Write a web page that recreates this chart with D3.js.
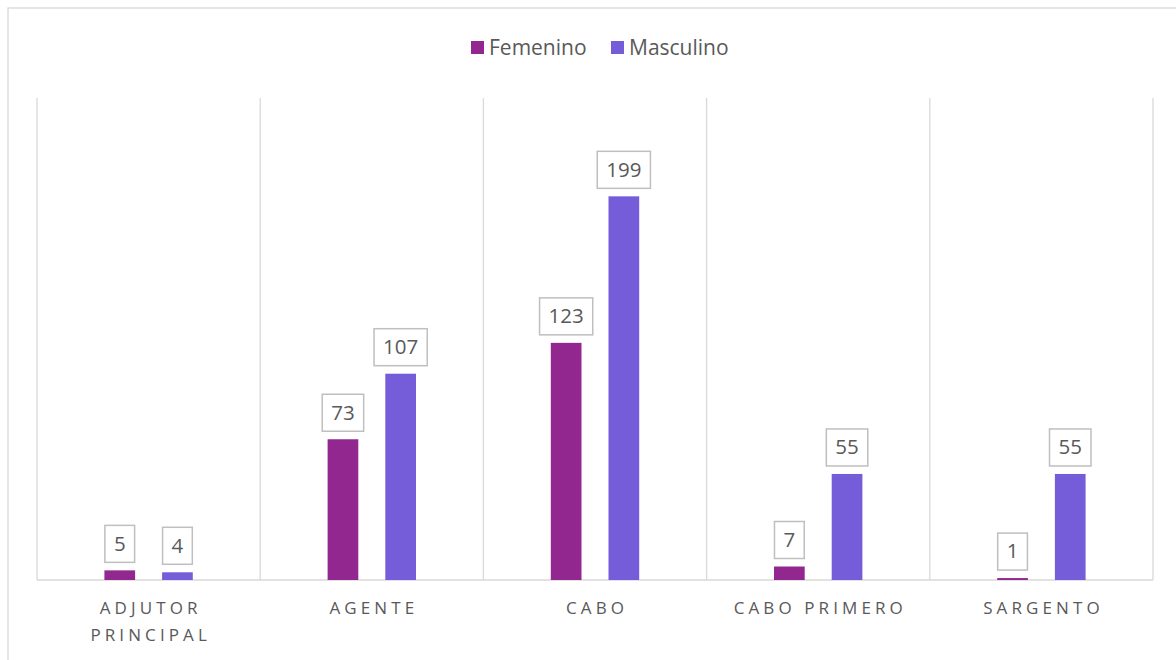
<!DOCTYPE html>
<html>
<head>
<meta charset="utf-8">
<script src="https://cdn.jsdelivr.net/npm/d3@7"></script>
<style>
  html, body { margin: 0; padding: 0; background: #ffffff; }
  svg { display: block; font-family: "Open Sans", "DejaVu Sans", sans-serif; }
</style>
</head>
<body>
<svg id="chart" width="1176" height="660"></svg>
<script>
// ---- data ----
const categories = ["ADJUTOR PRINCIPAL", "AGENTE", "CABO", "CABO PRIMERO", "SARGENTO"];
const categoryLines = [["ADJUTOR", "PRINCIPAL"], ["AGENTE"], ["CABO"], ["CABO PRIMERO"], ["SARGENTO"]];
const seriesNames = ["Femenino", "Masculino"];
const femenino = [5, 73, 123, 7, 1];
const masculino = [4, 107, 199, 55, 55];
const seriesColors = ["#92278F", "#755DD9"];
const yMax = 250;

const svg = d3.select("#chart");
const W = 1176, H = 660;
const plot = { left: 37, right: 1153, top: 98, bottom: 580 };

// chart area border (extends beyond the visible frame)
svg.append("rect")
  .attr("x", 8).attr("y", 8)
  .attr("width", W + 20).attr("height", H + 20)
  .attr("fill", "#fff").attr("stroke", "#d9d9d9").attr("stroke-width", 1.3);

const x0 = d3.scaleBand().domain(categories).range([plot.left, plot.right]).paddingInner(0).paddingOuter(0);
const bw = x0.bandwidth();
const groupW = bw * 0.396;
const x1 = d3.scaleBand().domain(seriesNames)
  .range([(bw - groupW) / 2, (bw + groupW) / 2])
  .paddingInner(0.468).paddingOuter(0);
const y = d3.scaleLinear().domain([0, yMax]).range([plot.bottom, plot.top]);

// vertical category separators
const sepPositions = categories.map(c => x0(c)).concat([x0(categories[categories.length - 1]) + bw]);
svg.append("g").selectAll("line").data(sepPositions).join("line")
  .attr("x1", d => d).attr("x2", d => d)
  .attr("y1", plot.top).attr("y2", plot.bottom)
  .attr("stroke", "#d9d9d9").attr("stroke-width", 1.3);

// baseline
svg.append("line")
  .attr("x1", plot.left).attr("x2", plot.right)
  .attr("y1", y(0)).attr("y2", y(0))
  .attr("stroke", "#d9d9d9").attr("stroke-width", 1.5);

// bars
const rows = categories.map((c, i) => ({ cat: c, vals: [femenino[i], masculino[i]] }));
const groups = svg.append("g").selectAll("g").data(rows).join("g")
  .attr("transform", d => `translate(${x0(d.cat)},0)`);

groups.selectAll("rect").data(d => d.vals.map((v, k) => ({ s: seriesNames[k], v, k }))).join("rect")
  .attr("x", d => x1(d.s))
  .attr("width", x1.bandwidth())
  .attr("y", d => y(d.v))
  .attr("height", d => y(0) - y(d.v))
  .attr("fill", d => seriesColors[d.k]);

// data labels with boxes
const labelG = groups.selectAll("g.lbl").data(d => d.vals.map((v, k) => ({ s: seriesNames[k], v, k }))).join("g")
  .attr("class", "lbl")
  .attr("transform", d => `translate(${x1(d.s) + x1.bandwidth() / 2},${y(d.v) - 8})`);

labelG.each(function(d) {
  const g = d3.select(this);
  const t = g.append("text")
    .attr("text-anchor", "middle")
    .attr("y", -19)
    .attr("dy", "0.36em")
    .attr("font-size", 20.5)
    .attr("fill", "#595959")
    .text(d.v);
  const tw = t.node().getComputedTextLength();
  const bwid = tw + 18;
  g.insert("rect", "text")
    .attr("x", -bwid / 2).attr("y", -37)
    .attr("width", bwid).attr("height", 37)
    .attr("fill", "#fff").attr("stroke", "#bfbfbf").attr("stroke-width", 1.5);
});

// category labels
const ls = 4.1;
const catG = svg.append("g").selectAll("text").data(categories).join("text")
  .attr("text-anchor", "middle")
  .attr("font-size", 17)
  .attr("letter-spacing", ls)
  .attr("fill", "#595959");
catG.each(function(c, i) {
  const t = d3.select(this);
  categoryLines[i].forEach((line, j) => {
    t.append("tspan")
      .attr("x", x0(c) + bw / 2 + ls / 2)
      .attr("y", 614 + j * 27)
      .text(line);
  });
});

// legend
const legendItems = [
  { name: seriesNames[0], color: seriesColors[0], x: 471 },
  { name: seriesNames[1], color: seriesColors[1], x: 611 }
];
const lg = svg.append("g").selectAll("g").data(legendItems).join("g")
  .attr("transform", d => `translate(${d.x},41)`);
lg.append("rect").attr("width", 13).attr("height", 13).attr("fill", d => d.color);
lg.append("text")
  .attr("x", 18).attr("y", 6.5).attr("dy", "0.36em")
  .attr("font-size", 21).attr("fill", "#595959")
  .text(d => d.name);
</script>
</body>
</html>
